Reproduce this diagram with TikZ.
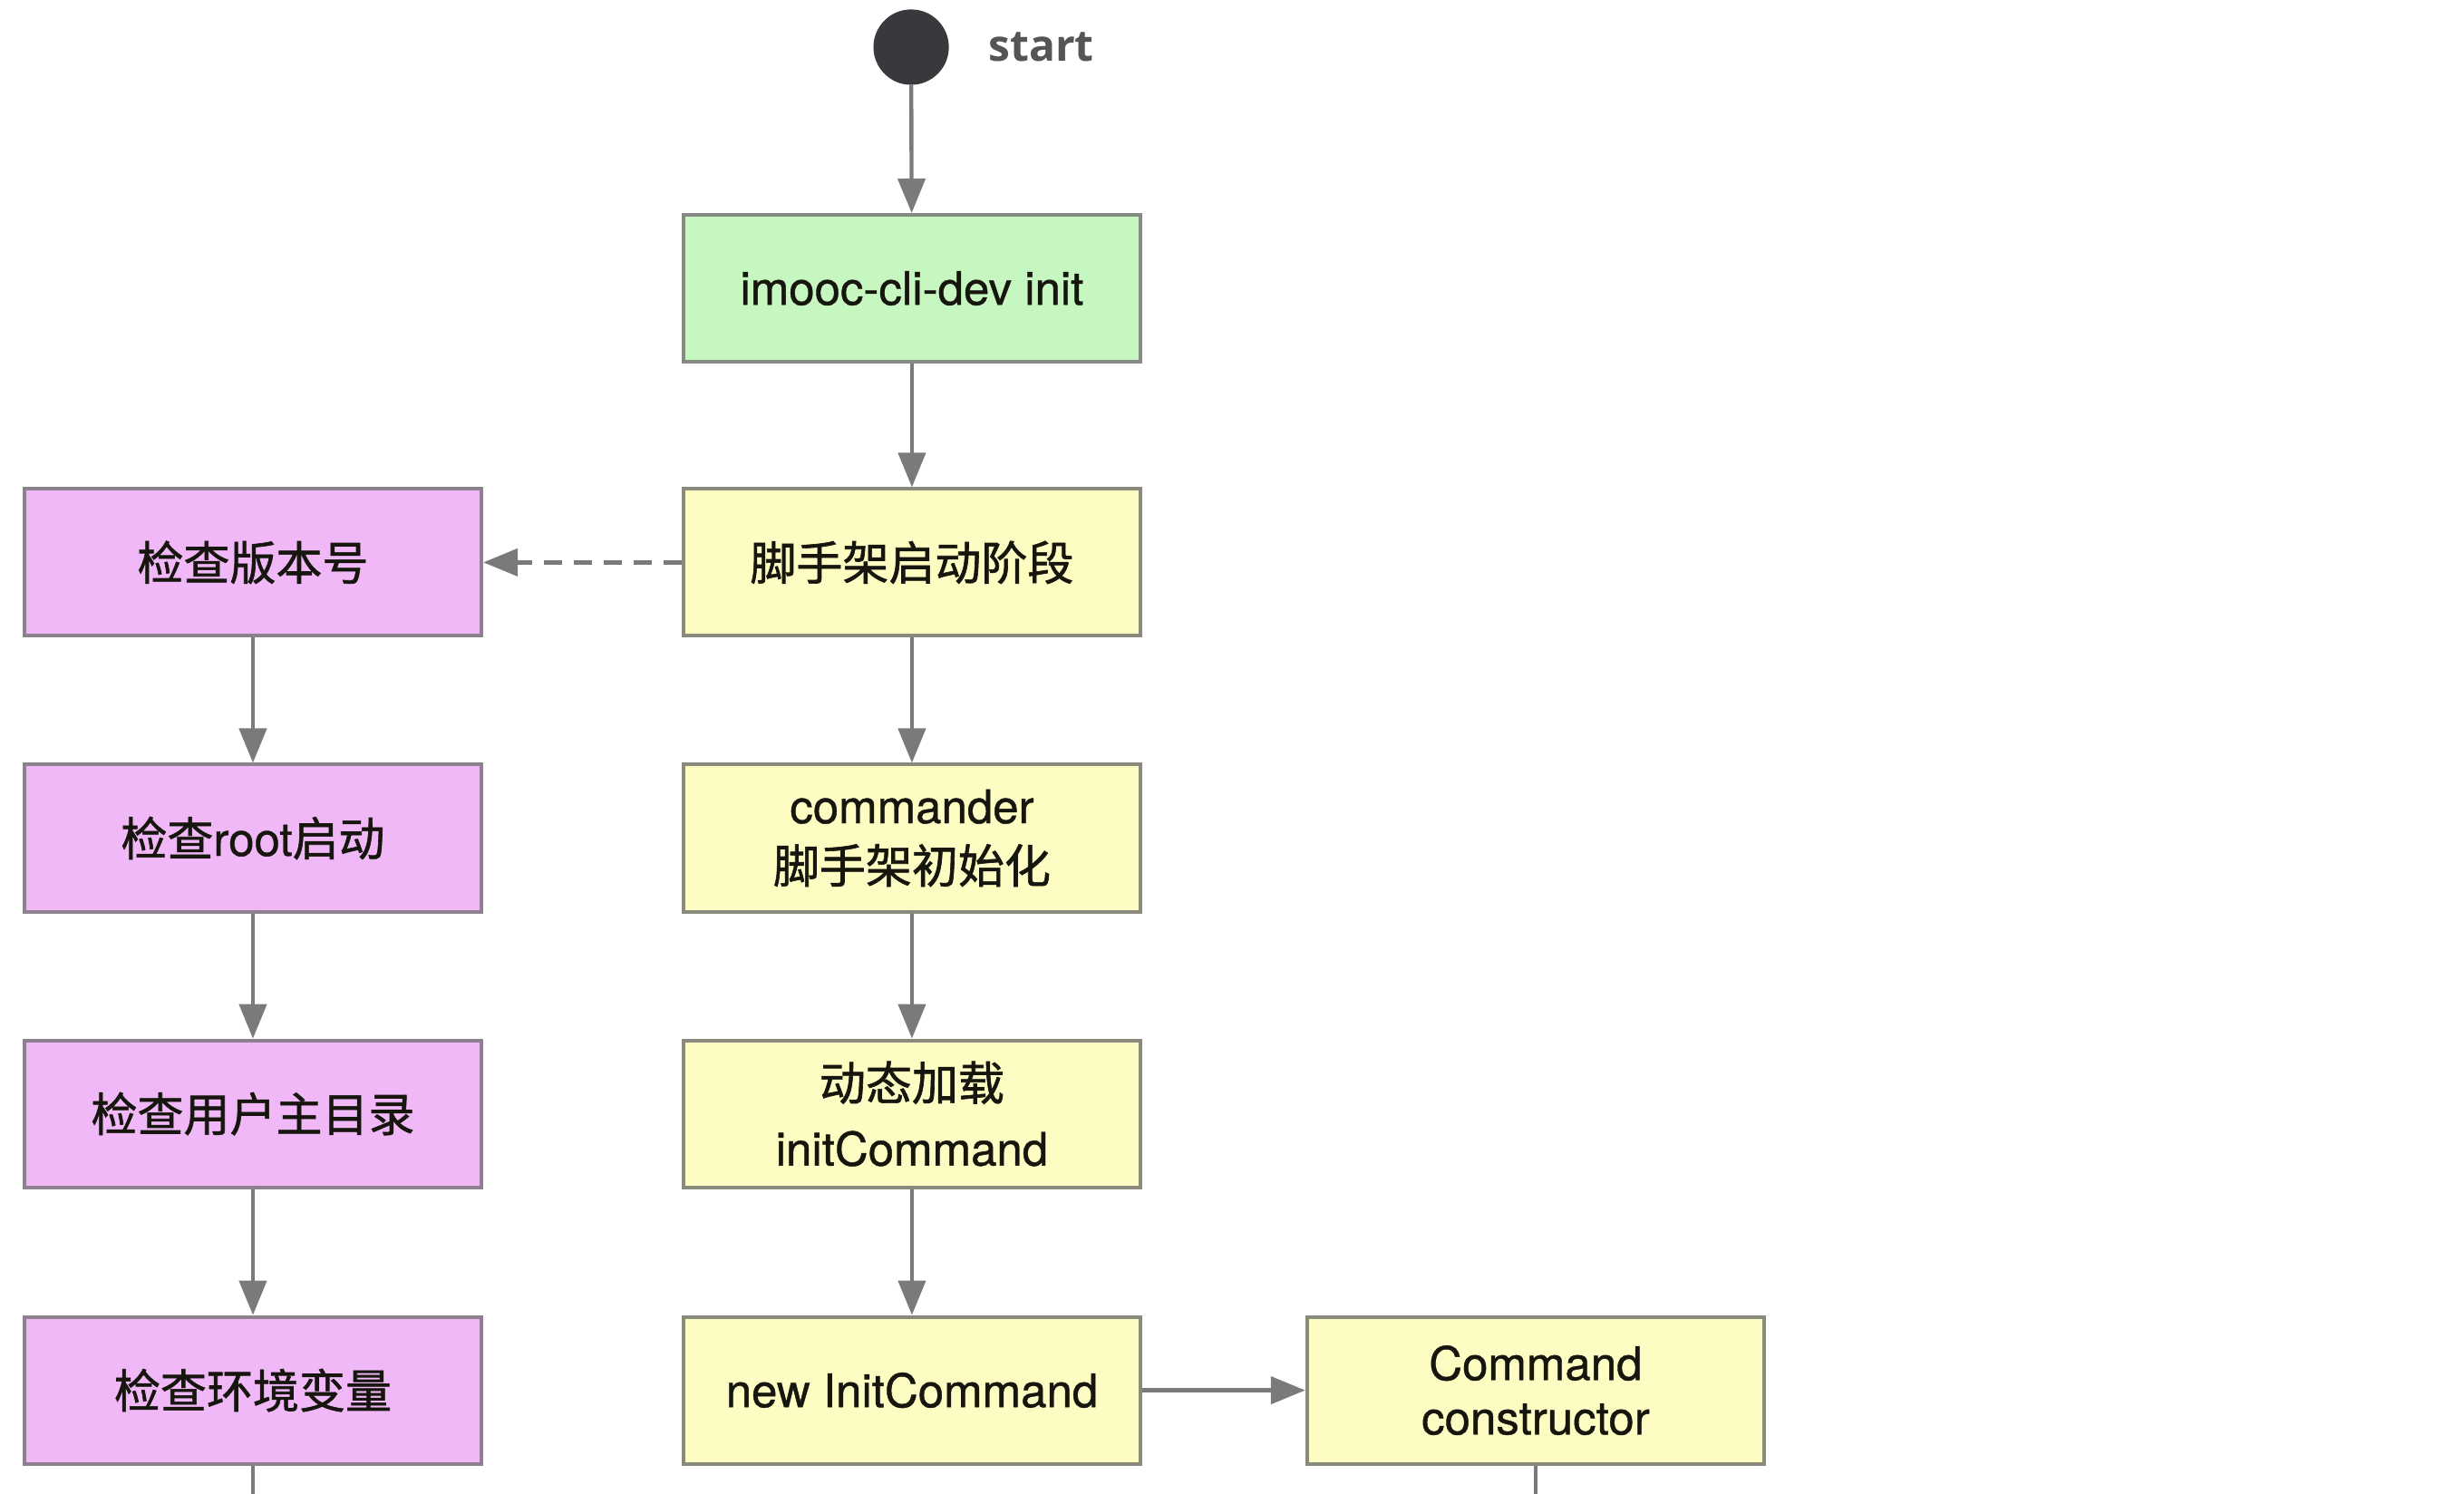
\documentclass[tikz,border=0pt]{standalone}
\usepackage{fontspec}
\setmainfont{TeX Gyre Heros}[FakeBold=0.8]
\newfontfamily\cjk{Noto Sans CJK SC}[FakeBold=1.2]
\newfontfamily\startfont{Open Sans}
\usetikzlibrary{arrows.meta}
\definecolor{greenfill}{HTML}{C6F7C0}
\definecolor{yellowfill}{HTML}{FDFCC3}
\definecolor{pinkfill}{HTML}{F1B8F7}
\definecolor{greenborder}{HTML}{858A85}
\definecolor{yellowborder}{HTML}{8A8A7C}
\definecolor{pinkborder}{HTML}{8D808F}
\definecolor{conncol}{HTML}{7A7A7A}
\definecolor{startdot}{HTML}{38393D}
\definecolor{startgray}{HTML}{555555}
\definecolor{textcol}{HTML}{16160F}
\tikzset{
  basebox/.style={line width=2pt, minimum width=291*0.8664pt, minimum height=93.5*0.8664pt,
    inner sep=0pt, align=center, text=textcol, font=\fontsize{25.5}{33}\selectfont},
  greenbox/.style={basebox, draw=greenborder, fill=greenfill},
  yellowbox/.style={basebox, draw=yellowborder, fill=yellowfill},
  pinkbox/.style={basebox, draw=pinkborder, fill=pinkfill},
  conn/.style={draw=conncol, line width=2.2pt, -{Triangle[width=15pt,length=19pt]}, color=conncol},
  plainconn/.style={draw=conncol, line width=2.2pt},
  dashconn/.style={conn, dash pattern=on 10pt off 6.5pt},
}
\begin{document}
\begin{tikzpicture}[x=0.8664pt,y=-0.8664pt]
\useasboundingbox[fill=white] (0,0) rectangle (1568.5,951);
% start
\node[circle, fill=startdot, minimum size=48*0.8664pt, inner sep=0pt] (start) at (580,30) {};
\node[anchor=west, text=startgray, font=\startfont\bfseries\fontsize{24}{28}\selectfont, inner sep=0pt] (startlbl) at (629,30) {start};
% middle column
\node[greenbox] (init) at (580.5,183.5) {imooc-cli-dev init};
\node[yellowbox] (stage) at (580.5,358) {\cjk 脚手架启动阶段};
\node[yellowbox] (commander) at (580.5,533.5) {commander\\\cjk 脚手架初始化};
\node[yellowbox, font=\fontsize{25.5}{36}\selectfont] (dyn) at (580.5,709) {\cjk 动态加载\\initCommand};
\node[yellowbox] (newinit) at (580.5,885) {new InitCommand};
\node[yellowbox, font=\fontsize{25.5}{30}\selectfont] (ctor) at (977.5,885) {Command\\constructor};
% left column
\node[pinkbox] (ver) at (161,358) {\cjk 检查版本号};
\node[pinkbox] (root) at (161,533.5) {{\cjk 检查}root{\cjk 启动}};
\node[pinkbox] (home) at (161,709) {\cjk 检查用户主目录};
\node[pinkbox] (env) at (161,885) {\cjk 检查环境变量};
% bottom ends
\coordinate (envend) at (161,951);
\coordinate (ctorend) at (977.5,951);
% connectors
\draw[conn] (start) -- (init);
\draw[conn] (init) -- (stage);
\draw[conn] (stage) -- (commander);
\draw[conn] (commander) -- (dyn);
\draw[conn] (dyn) -- (newinit);
\draw[conn] (newinit) -- (ctor);
\draw[dashconn] (stage) -- (ver);
\draw[conn] (ver) -- (root);
\draw[conn] (root) -- (home);
\draw[conn] (home) -- (env);
\draw[plainconn] (env.south) -- (envend);
\draw[plainconn] (ctor.south) -- (ctorend);
\end{tikzpicture}
\end{document}
